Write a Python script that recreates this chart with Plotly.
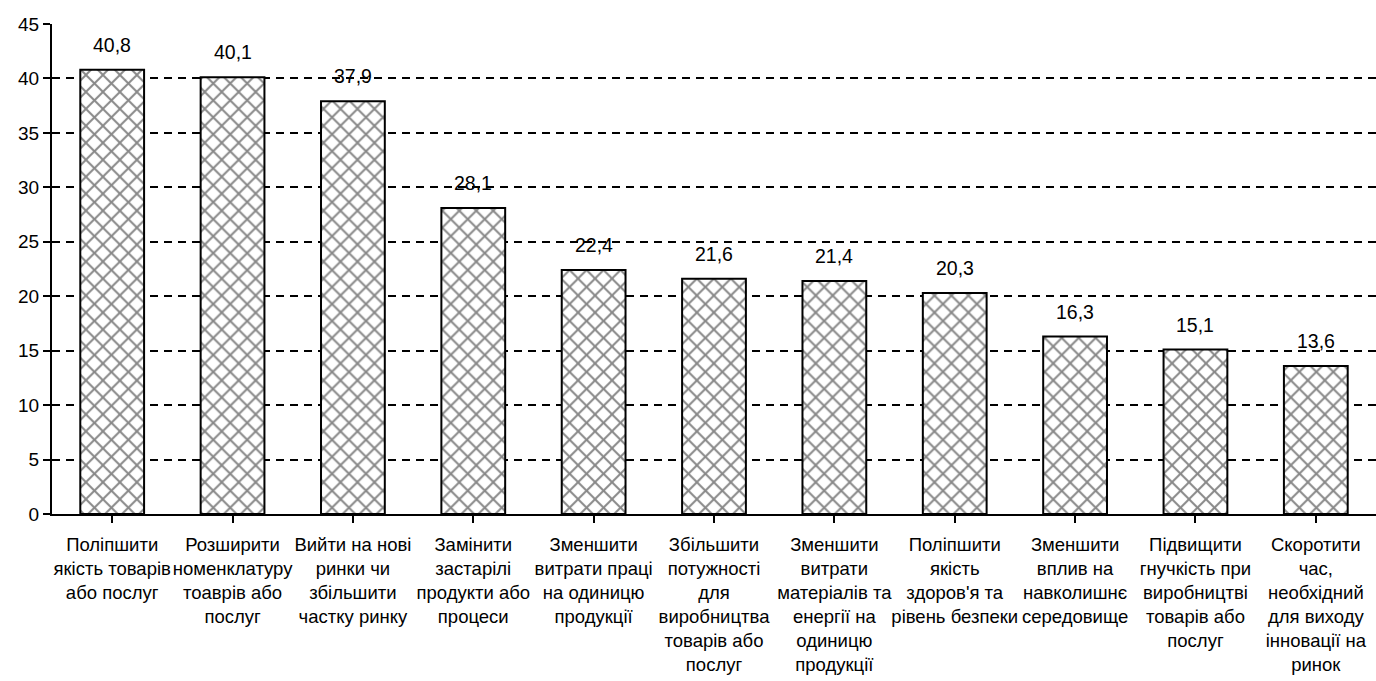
import plotly.graph_objects as go

categories = [
    "Поліпшити<br>якість товарів<br>або послуг",
    "Розширити<br>номенклатуру<br>тоаврів або<br>послуг",
    "Вийти на нові<br>ринки чи<br>збільшити<br>частку ринку",
    "Замінити<br>застарілі<br>продукти або<br>процеси",
    "Зменшити<br>витрати праці<br>на одиницю<br>продукції",
    "Збільшити<br>потужності<br>для<br>виробництва<br>товарів або<br>послуг",
    "Зменшити<br>витрати<br>матеріалів та<br>енергії на<br>одиницю<br>продукції",
    "Поліпшити<br>якість<br>здоров'я та<br>рівень безпеки",
    "Зменшити<br>вплив на<br>навколишнє<br>середовище",
    "Підвищити<br>гнучкість при<br>виробництві<br>товарів або<br>послуг",
    "Скоротити<br>час,<br>необхідний<br>для виходу<br>інновації на<br>ринок",
]
values = [40.8, 40.1, 37.9, 28.1, 22.4, 21.6, 21.4, 20.3, 16.3, 15.1, 13.6]
yticks = [0, 5, 10, 15, 20, 25, 30, 35, 40, 45]

FONT = "Liberation Sans, Arial"

fig = go.Figure(go.Bar(
    x=list(range(len(categories))),
    y=values,
    width=0.53,
    marker=dict(
        color="white",
        line=dict(color="black", width=2),
        pattern=dict(shape="x", fgcolor="#111111", bgcolor="white", size=12, solidity=0.3),
    ),
    hoverinfo="skip",
))

for i, v in enumerate(values):
    fig.add_annotation(x=i, y=v, text=f"{v:.1f}".replace(".", ","), showarrow=False,
                       yanchor="bottom", yshift=12,
                       font=dict(family=FONT, size=19.5, color="black"))

fig.update_layout(
    width=1376, height=681,
    margin=dict(l=52, r=0, t=24, b=167),
    plot_bgcolor="white", paper_bgcolor="white",
    showlegend=False,
    font=dict(family=FONT, color="black"),
)
fig.update_xaxes(
    tickmode="array", tickvals=list(range(len(categories))), ticktext=categories,
    tickangle=0, range=[-0.5, len(categories) - 0.5],
    showline=True, linecolor="black", linewidth=2,
    ticks="outside", tickson="boundaries", ticklen=7, tickcolor="black", tickwidth=2,
    tickfont=dict(size=18.5), ticklabelstandoff=6, showgrid=False,
)
fig.update_yaxes(
    range=[0, 45], tickmode="array", tickvals=yticks,
    showline=True, linecolor="black", linewidth=2,
    ticks="outside", ticklen=7, tickcolor="black", tickwidth=2,
    tickfont=dict(size=19),
    showgrid=True, gridcolor="black", gridwidth=2.2, griddash="8px,6px",
    zeroline=False,
)

fig.write_html("out.html", config={"displayModeBar": False},
               post_script="document.body.style.margin='0';")
